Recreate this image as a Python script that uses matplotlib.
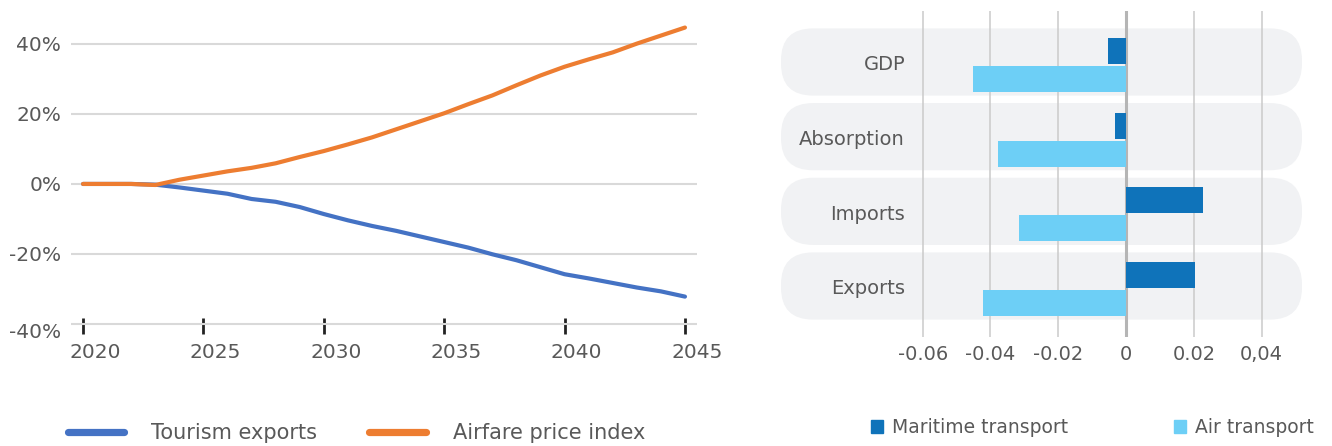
import numpy as np
import matplotlib
matplotlib.use('Agg')
import matplotlib.pyplot as plt
from matplotlib.patches import FancyBboxPatch, Patch
from matplotlib.lines import Line2D
import matplotlib.transforms as mtransforms

# left panel: projected change vs baseline (%)
years = list(range(2020, 2046))
tourism = [0, 0, 0, -0.2, -1.0, -1.9, -2.8, -4.3, -5.1, -6.6,
           -8.6, -10.4, -12.0, -13.4, -15.0, -16.6, -18.2, -20.1, -21.8, -23.8,
           -25.8, -27.0, -28.3, -29.6, -30.7, -32.2]
airfare = [0, 0, 0, -0.3, 1.2, 2.4, 3.6, 4.6, 5.9, 7.7,
           9.4, 11.3, 13.3, 15.6, 17.9, 20.2, 22.8, 25.3, 28.2, 31.0,
           33.5, 35.6, 37.6, 40.1, 42.4, 44.7]
year_ticks = [2020, 2025, 2030, 2035, 2040, 2045]
pct_ticks = [-40, -20, 0, 20, 40]
pct_labels = ['-40%', '-20%', '0%', '20%', '40%']

# right panel
categories = ['GDP', 'Absorption', 'Imports', 'Exports']
maritime = [-0.0053, -0.0032, 0.0228, 0.0204]
air = [-0.0452, -0.0378, -0.0316, -0.0422]
x_ticks = [-0.06, -0.04, -0.02, 0, 0.02, 0.04]
x_labels = ['-0.06', '-0.04', '-0.02', '0', '0.02', '0,04']

TXT = '#595959'
W, H = 1332, 446

fig = plt.figure(figsize=(W / 100, H / 100), dpi=100)

# ---- left: line chart
ax1 = fig.add_axes([71 / W, 1 - 326 / H, 626 / W, 317 / H])
ax1.plot(years, tourism, color='#4472c4', lw=3.0, solid_capstyle='round', zorder=3)
ax1.plot(years, airfare, color='#ed7d31', lw=3.0, solid_capstyle='round', zorder=4)
ax1.set_xlim(2019.5, 2045.5)
ax1.set_ylim(-40.6, 50)
ax1.set_yticks(pct_ticks)
ax1.set_yticklabels(pct_labels)
ax1.set_xticks(year_ticks)
ax1.set_xticklabels([str(y) for y in year_ticks])
ax1.grid(axis='y', color='#d9d9d9', lw=1.5)
ax1.set_axisbelow(True)
for s in ax1.spines.values():
    s.set_visible(False)
ax1.tick_params(axis='y', length=0, pad=7, labelsize=14.5, labelcolor=TXT)
ax1.tick_params(axis='x', direction='inout', length=12, width=2, color='#222222',
                pad=6, labelsize=14.5, labelcolor=TXT)
shift = mtransforms.ScaledTranslation(12 / 100, 0, fig.dpi_scale_trans)
for lab in ax1.get_xticklabels():
    lab.set_transform(lab.get_transform() + shift)
down = mtransforms.ScaledTranslation(0, -7 / 100, fig.dpi_scale_trans)
lab0 = ax1.get_yticklabels()[0]
lab0.set_transform(lab0.get_transform() + down)

h1 = [Line2D([], [], color='#4472c4', lw=5.2, solid_capstyle='round'),
      Line2D([], [], color='#ed7d31', lw=5.2, solid_capstyle='round')]
fig.legend(h1, ['Tourism exports', 'Airfare price index'], loc='center left',
           bbox_to_anchor=(68 / W, 1 - 433 / H), ncol=2, frameon=False,
           fontsize=15, labelcolor=TXT, handlelength=2.7, handletextpad=1.3,
           columnspacing=2.5, borderpad=0, borderaxespad=0)

# ---- right: grouped horizontal bars
ax2 = fig.add_axes([781 / W, 1 - 337 / H, 521 / W, 326 / H])
xmin, xmax = -0.1018, 0.0519
ax2.set_xlim(xmin, xmax)
ax2.set_ylim(3.643, -0.723)
for s in ax2.spines.values():
    s.set_visible(False)

px_x = (xmax - xmin) / 521
px_y = (3.643 + 0.723) / 326
for i in range(len(categories)):
    box = FancyBboxPatch((xmin, i - 0.49), xmax - xmin, 0.9,
                         boxstyle='round,pad=0,rounding_size=%f' % (32 * px_x),
                         mutation_aspect=px_y / px_x, fc='#f1f2f4', ec='none',
                         zorder=0, clip_on=False)
    ax2.add_patch(box)

for t in x_ticks:
    if t == 0:
        ax2.axvline(t, color='#b5b5b5', lw=2.2, zorder=1)
    else:
        ax2.axvline(t, color='#cacaca', lw=1.1, zorder=1)

y = np.arange(len(categories))
ax2.barh(y - 0.187, maritime, height=0.348, color='#0f73ba', zorder=2)
ax2.barh(y + 0.187, air, height=0.348, color='#6dcff6', zorder=2)

for i, c in enumerate(categories):
    ax2.text(-0.0652, i, c, ha='right', va='center', fontsize=14, color=TXT)

ax2.set_yticks([])
ax2.set_xticks(x_ticks)
ax2.set_xticklabels(x_labels)
ax2.tick_params(axis='x', length=0, pad=6, labelsize=14, labelcolor=TXT)

h2 = [Patch(color='#0f73ba'), Patch(color='#6dcff6')]
fig.legend(h2, ['Maritime transport', 'Air transport'], loc='center left',
           bbox_to_anchor=(871 / W, 1 - 427.5 / H), ncol=2, frameon=False,
           fontsize=13.5, labelcolor=TXT, handlelength=0.64, handleheight=0.64,
           handletextpad=0.5, columnspacing=5.6, borderpad=0, borderaxespad=0)

fig.savefig('out.png', dpi=100)
